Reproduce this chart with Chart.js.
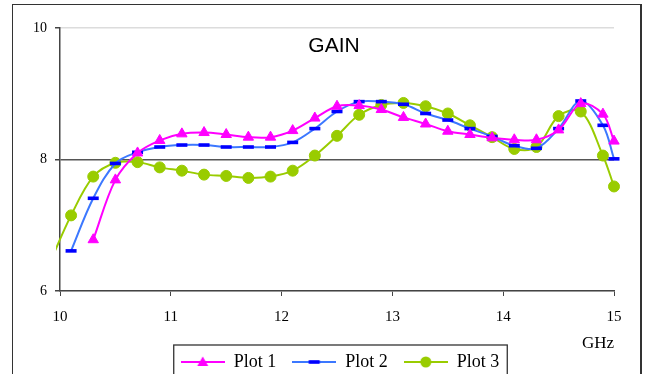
<!DOCTYPE html>
<html>
<head>
<meta charset="utf-8">
<script src="https://cdn.jsdelivr.net/npm/chart.js@4.4.0/dist/chart.umd.min.js"></script>
<style>
    html, body { margin: 0; padding: 0; background: #fff; overflow: hidden; }
    #grafico { position: absolute; left: 0; top: 0; }
    #marco {
        position: absolute; left: 12px; top: 4px; width: 630px; height: 420px;
        border-style: solid; border-color: #333; border-width: 1px 2px 1px 1px;
        box-sizing: border-box; pointer-events: none;
    }
</style>
</head>
<body>
<canvas id="grafico" width="647" height="400"></canvas>
<div id="marco"></div>
<script>
// Datos (GHz y ganancia)
const frecuencias = [9.9, 10.1, 10.3, 10.5, 10.7, 10.9, 11.1, 11.3, 11.5, 11.7, 11.9, 12.1, 12.3, 12.5,
    12.7, 12.9, 13.1, 13.3, 13.5, 13.7, 13.9, 14.1, 14.3, 14.5, 14.7, 14.9, 15.0];
const plot1 = [null, null, 6.78, 7.69, 8.10, 8.29, 8.39, 8.41, 8.38, 8.34, 8.34, 8.44, 8.63, 8.81,
    8.82, 8.76, 8.64, 8.54, 8.43, 8.38, 8.33, 8.30, 8.30, 8.45, 8.85, 8.69, 8.28];
const plot2 = [null, 6.61, 7.41, 7.94, 8.11, 8.19, 8.22, 8.22, 8.19, 8.19, 8.19, 8.26, 8.47, 8.73,
    8.88, 8.88, 8.84, 8.70, 8.60, 8.47, 8.35, 8.21, 8.17, 8.47, 8.89, 8.52, 8.01];
const plot3 = [6.40, 7.15, 7.74, 7.95, 7.96, 7.88, 7.83, 7.77, 7.75, 7.72, 7.74, 7.83, 8.06, 8.36,
    8.68, 8.83, 8.86, 8.81, 8.70, 8.52, 8.34, 8.16, 8.19, 8.66, 8.73, 8.06, 7.59];
const etiquetas = ['Plot 1', 'Plot 2', 'Plot 3'];
const ticksX = [10, 11, 12, 13, 14, 15];
const ticksY = [6, 8, 10];

function puntos(serie) {
    return frecuencias.map((f, i) => ({ x: f, y: serie[i] }));
}

// icono de leyenda: linea con el marcador en medio
function crearIcono(ds) {
    const c = document.createElement('canvas');
    c.width = 44;
    c.height = 14;
    const g = c.getContext('2d');
    g.strokeStyle = ds.borderColor;
    g.lineWidth = 2;
    g.beginPath();
    g.moveTo(0, 7);
    g.lineTo(44, 7);
    g.stroke();
    g.fillStyle = ds.pointBackgroundColor;
    if (ds.pointStyle === 'triangle') {
        g.beginPath();
        g.moveTo(22, 1.5);
        g.lineTo(27.5, 11);
        g.lineTo(16.5, 11);
        g.closePath();
        g.fill();
    } else if (ds.pointStyle === 'line') {
        g.fillRect(16.5, 5.2, 11, 3.6);
    } else {
        g.beginPath();
        g.arc(22, 7, 5.5, 0, Math.PI * 2);
        g.fill();
    }
    return c;
}

const textoGain = {
    id: 'textoGain',
    beforeDatasetsDraw(chart) {
        const { ctx, chartArea } = chart;
        ctx.save();
        ctx.font = '21px "Liberation Sans", Arial, sans-serif';
        ctx.fillStyle = '#000';
        ctx.textAlign = 'center';
        ctx.textBaseline = 'alphabetic';
        ctx.fillText('GAIN', (chartArea.left + chartArea.right) / 2 - 3, chartArea.top + 24);
        ctx.restore();
    }
};

const marcoLeyenda = {
    id: 'marcoLeyenda',
    afterDraw(chart) {
        const cajas = chart.legend.legendHitBoxes;
        if (!cajas || !cajas.length) return;
        const ctx = chart.ctx;
        const ultima = cajas[cajas.length - 1];
        const izq = cajas[0].left - 7;
        const der = ultima.left + ultima.width + 8;
        const arriba = cajas[0].top - 8;
        ctx.save();
        ctx.strokeStyle = '#333';
        ctx.lineWidth = 1.3;
        ctx.strokeRect(izq, arriba, der - izq, 40);
        ctx.restore();
    }
};

const datos1 = {
    label: etiquetas[0],
    data: puntos(plot1),
    borderColor: '#ff00ff',
    pointBackgroundColor: '#ff00ff',
    pointBorderColor: '#ff00ff',
    pointStyle: 'triangle',
    pointRadius: 6,
    pointBorderWidth: 1,
    borderWidth: 2,
    tension: 0.35
};
const datos2 = {
    label: etiquetas[1],
    data: puntos(plot2),
    borderColor: '#3c78ff',
    pointBackgroundColor: '#0000ff',
    pointBorderColor: '#0000ff',
    pointStyle: 'line',
    pointRadius: 5.5,
    pointBorderWidth: 3.6,
    borderWidth: 2,
    tension: 0.35
};
const datos3 = {
    label: etiquetas[2],
    data: puntos(plot3),
    borderColor: '#99cc00',
    pointBackgroundColor: '#99cc00',
    pointBorderColor: '#99cc00',
    pointStyle: 'circle',
    pointRadius: ctx => (ctx.raw && ctx.raw.x < 10) ? 0 : 5.5,
    pointBorderWidth: 1,
    borderWidth: 2,
    tension: 0.35
};
const datasets = [datos1, datos2, datos3];
datasets.forEach(ds => {
    ds.fill = false;
    ds.clip = { left: 4, top: 10, right: 10, bottom: 10 };
    ds.icono = crearIcono(ds);
});

const fuenteEjes = { family: '"Liberation Serif", "Times New Roman", serif', size: 15 };

const config = {
    type: 'line',
    data: { datasets: datasets },
    plugins: [textoGain, marcoLeyenda],
    options: {
        responsive: false,
        animation: false,
        events: [],
        layout: { padding: { left: 33, right: 0, top: 28, bottom: 19 } },
        plugins: {
            title: { display: false },
            tooltip: { enabled: false },
            legend: {
                display: true,
                position: 'bottom',
                labels: {
                    usePointStyle: true,
                    pointStyleWidth: 44,
                    boxHeight: 14,
                    padding: 16,
                    color: '#000',
                    font: { family: '"Liberation Serif", "Times New Roman", serif', size: 18 },
                    generateLabels: chart => chart.data.datasets.map((ds, i) => ({
                        text: ds.label,
                        pointStyle: ds.icono,
                        datasetIndex: i,
                        fontColor: '#000',
                        fillStyle: 'transparent',
                        strokeStyle: 'transparent',
                        lineWidth: 0,
                        hidden: false
                    }))
                }
            }
        },
        scales: {
            x: {
                type: 'linear',
                min: 10,
                max: 15,
                afterBuildTicks: s => { s.ticks = ticksX.map(v => ({ value: v })); },
                afterFit: s => { s.height = 46; },
                grid: { drawOnChartArea: false, drawTicks: true, tickLength: 5, tickColor: '#444' },
                border: { display: true, color: '#444', width: 1.5 },
                ticks: { color: '#000', font: fuenteEjes, padding: 12, maxRotation: 0 },
                title: {
                    display: true,
                    text: 'GHz',
                    align: 'end',
                    color: '#000',
                    font: { family: '"Liberation Serif", "Times New Roman", serif', size: 17 },
                    padding: { top: 0, bottom: -17 }
                }
            },
            y: {
                type: 'linear',
                min: 6,
                max: 10,
                afterBuildTicks: s => { s.ticks = ticksY.map(v => ({ value: v })); },
                afterFit: s => { s.width = 27; },
                grid: {
                    color: ctx => (ctx.tick && ctx.tick.value === 8) ? '#555' : '#dcdcdc',
                    lineWidth: 1.5,
                    drawTicks: true,
                    tickLength: 5,
                    tickColor: '#444'
                },
                border: { display: true, color: '#444', width: 1.5 },
                ticks: { color: '#000', font: { family: fuenteEjes.family, size: 14 }, padding: 8 }
            },
            derecha: {
                type: 'linear',
                position: 'right',
                display: true,
                afterFit: s => { s.width = 33; },
                grid: { display: false },
                border: { display: false },
                ticks: { display: false }
            }
        }
    }
};

new Chart(document.getElementById('grafico'), config);
</script>
</body>
</html>
